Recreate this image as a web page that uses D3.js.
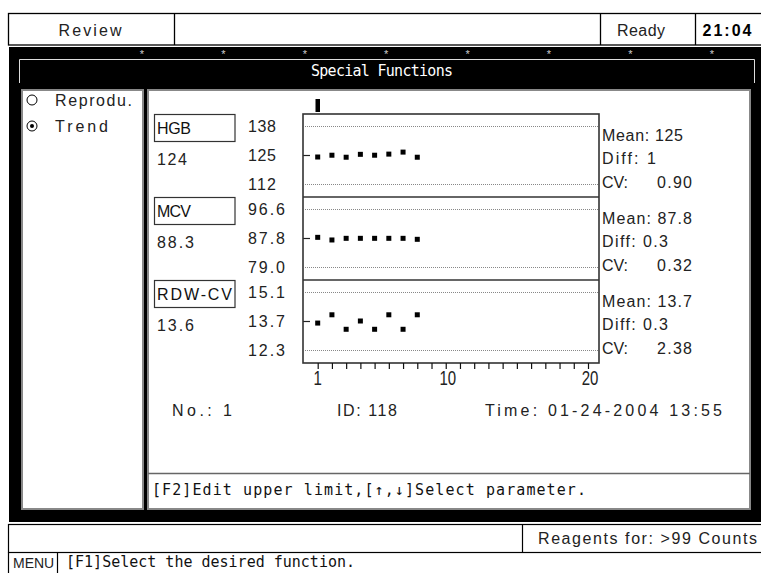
<!DOCTYPE html>
<html><head><meta charset="utf-8">
<script src="https://cdn.jsdelivr.net/npm/d3@7"></script>
<style>html,body{margin:0;padding:0;background:#fff;overflow:hidden}</style>
</head><body><svg id="c" width="761" height="573"></svg>
<script>
// ---------- data ----------
const params = ["HGB", "MCV", "RDW-CV"];
const currentValues = ["124", "88.3", "13.6"];
const upperLimits = [138, 96.6, 15.1];
const means = [125, 87.8, 13.7];
const lowerLimits = [112, 79.0, 12.3];
const upperLabels = ["138", "96.6", "15.1"];
const meanLabels = ["125", "87.8", "13.7"];
const lowerLabels = ["112", "79.0", "12.3"];
const diffs = ["1", "0.3", "0.3"];
const cvs = ["0.90", "0.32", "2.38"];
const runNumbers = [1, 2, 3, 4, 5, 6, 7, 8];
const hgbValues = [124.1, 124.9, 124.0, 125.3, 124.9, 125.4, 126.3, 124.0];
const mcvValues = [88.0, 87.2, 87.7, 87.7, 87.7, 87.7, 87.7, 87.4];
const rdwValues = [13.6, 14.0, 13.3, 13.7, 13.3, 14.0, 13.3, 14.0];
const seriesValues = [hgbValues, mcvValues, rdwValues];
const xTicks = [1,2,3,4,5,6,7,8,9,10,11,12,13,14,15,16,17,18,19,20];
const xTickLabels = [1, 10, 20];
const selectedRun = 1;
const modes = ["Reprodu.", "Trend"];
const selectedMode = "Trend";
const headerTitle = "Review";
const statusText = "Ready";
const clockText = "21:04";
const screenTitle = "Special Functions";
const infoNo = "No.:  1";
const infoId = "ID:  118";
const infoTime = "Time:  01-24-2004  13:55";
const hintText = "[F2]Edit upper limit,[\u2191,\u2193]Select parameter.";
const reagentText = "Reagents for: >99 Counts";
const menuText = "MENU";
const menuHint = "[F1]Select the desired function.";

// ---------- drawing ----------
const svg = d3.select("#c");
const SANS = "'Liberation Sans', Arial, Helvetica, sans-serif";
const MONO = "'DejaVu Sans Mono', 'Liberation Mono', monospace";
function T(sel, s, x, y, o = {}) {
  const t = sel.append("text").attr("x", x).attr("y", y).text(s)
    .attr("font-family", o.ff || SANS).attr("font-size", o.fs || 16)
    .attr("fill", o.fill || "#000").attr("dominant-baseline", "central");
  if (o.anchor) t.attr("text-anchor", o.anchor);
  if (o.w) t.attr("textLength", o.w).attr("lengthAdjust", "spacing");
  if (o.fw) t.attr("font-weight", o.fw);
  return t;
}
svg.append("rect").attr("width", 761).attr("height", 573).attr("fill", "#fff");

// header bar
svg.append("rect").attr("x", 8.5).attr("y", 13.5).attr("width", 760).attr("height", 31.5)
  .attr("fill", "none").attr("stroke", "#000").attr("stroke-width", 1.3);
[174.5, 600.5, 695.5].forEach(x => svg.append("line").attr("x1", x).attr("x2", x)
  .attr("y1", 13.5).attr("y2", 45).attr("stroke", "#000").attr("stroke-width", 1.3));
T(svg, headerTitle, 90, 30, {anchor: "middle", w: 63, fill: "#222"});
T(svg, statusText, 641, 30, {anchor: "middle", w: 48, fill: "#222"});
T(svg, clockText, 727, 30, {anchor: "middle", w: 49, fw: "bold", fs: 16});

// black frame
svg.append("rect").attr("x", 9).attr("y", 47).attr("width", 752).attr("height", 475).attr("fill", "#000");
d3.range(8).forEach(i => T(svg, "*", 142 + i * 81.4, 54, {anchor: "middle", fs: 11, fill: "#ccc"}));
svg.append("path").attr("d", "M19.5,83V59.5H754.5V83").attr("fill", "none").attr("stroke", "#ddd").attr("stroke-width", 1);
T(svg, screenTitle, 382, 71, {anchor: "middle", ff: MONO, fs: 15, w: 142, fill: "#fff"});

// panels
svg.append("rect").attr("x", 22).attr("y", 90).attr("width", 121).attr("height", 419)
  .attr("fill", "#fff").attr("stroke", "#888").attr("stroke-width", 2);
svg.append("rect").attr("x", 148).attr("y", 90).attr("width", 602).attr("height", 419)
  .attr("fill", "#fff").attr("stroke", "#888").attr("stroke-width", 2);
svg.append("line").attr("x1", 148).attr("x2", 750).attr("y1", 473.5).attr("y2", 473.5)
  .attr("stroke", "#666").attr("stroke-width", 1.3);

// radios
modes.forEach((m, i) => {
  const cy = 100 + i * 26;
  svg.append("circle").attr("cx", 32).attr("cy", cy).attr("r", 5).attr("fill", "none").attr("stroke", "#000").attr("stroke-width", 1);
  if (m === selectedMode) svg.append("circle").attr("cx", 32).attr("cy", cy).attr("r", 2).attr("fill", "#000");
  T(svg, m, 55, cy, {w: m.length > 6 ? 77 : 53, fill: "#222"});
});

// plot
const plotL = 303, plotR = 599, panelTop = [114, 197, 280], panelH = 83;
const x = d3.scaleLinear().domain([1, 20]).range([317.7, 588]);
const plotBottom = panelTop[2] + panelH;
const g = svg.append("g");

params.forEach((p, i) => {
  const top = panelTop[i];
  const y = d3.scaleLinear().domain([lowerLimits[i], upperLimits[i]]).range([top + 70, top + 12]);
  [upperLimits[i], lowerLimits[i]].forEach(v => g.append("line")
    .attr("x1", plotL + 2).attr("x2", plotR - 1).attr("y1", Math.round(y(v)) + 0.5).attr("y2", Math.round(y(v)) + 0.5)
    .attr("stroke", "#888").attr("stroke-width", 1).attr("stroke-dasharray", "1,1"));
  const ax = g.append("g").attr("transform", `translate(${plotL},0)`)
    .call(d3.axisRight(y).tickValues([means[i]]).tickSize(7).tickFormat(""));
  ax.select(".domain").remove();
  ax.selectAll("line").attr("stroke", "#222").attr("stroke-width", 1.2);
  g.selectAll(null).data(seriesValues[i]).enter().append("rect")
    .attr("x", (d, k) => x(runNumbers[k]) - 2.5).attr("y", d => y(d) - 2.5)
    .attr("width", 5).attr("height", 5).attr("fill", "#000");
  svg.append("rect").attr("x", 154.5).attr("y", top + 0.5).attr("width", 80.5).attr("height", 27)
    .attr("fill", "none").attr("stroke", "#333").attr("stroke-width", 1.2);
  T(svg, p, 157, top + 14, {w: p.length > 3 ? 75 : 34, fill: "#111"});
  T(svg, currentValues[i], 157, top + 45, {w: currentValues[i].length > 3 ? 37 : 30, fill: "#222"});
  [[upperLabels[i], upperLimits[i]], [meanLabels[i], means[i]], [lowerLabels[i], lowerLimits[i]]].forEach(([s, v]) =>
    T(svg, s, 248, y(v), {w: s.length > 3 ? 37 : 28, fill: "#222"}));
  const mean = "Mean: " + meanLabels[i];
  T(svg, mean, 602, top + 21, {w: mean.length > 9 ? 90 : 81, fill: "#222"});
  const diff = "Diff: " + diffs[i];
  T(svg, diff, 602, top + 44, {w: diff.length > 7 ? 66 : 54, fill: "#222"});
  T(svg, "CV:", 602, top + 68, {w: 26, fill: "#222"});
  T(svg, cvs[i], 657, top + 68, {w: 35, fill: "#222"});
});

g.append("rect").attr("x", plotL).attr("y", panelTop[0]).attr("width", plotR - plotL).attr("height", plotBottom - panelTop[0])
  .attr("fill", "none").attr("stroke", "#333").attr("stroke-width", 1.6);
[panelTop[1], panelTop[2]].forEach(yy => g.append("line").attr("x1", plotL).attr("x2", plotR)
  .attr("y1", yy).attr("y2", yy).attr("stroke", "#333").attr("stroke-width", 1.6));

const xa = g.append("g").attr("transform", `translate(0,${plotBottom})`)
  .call(d3.axisBottom(x).tickValues(xTicks).tickSize(6).tickFormat(""));
xa.select(".domain").remove();
xa.selectAll("line").attr("stroke", "#111").attr("stroke-width", 1.2);
xTickLabels.forEach(v => {
  g.append("text").attr("transform", `translate(${x(v) + (v >= 10 ? 2 : 0)},385) scale(1,1.4)`)
    .attr("text-anchor", "middle").attr("font-family", SANS).attr("font-size", 15).attr("fill", "#222").text(v);
});
g.append("rect").attr("x", x(selectedRun) - 2.2).attr("y", 99).attr("width", 4.5).attr("height", 13).attr("fill", "#000");

T(svg, infoNo, 172, 410, {w: 60, fill: "#222"});
T(svg, infoId, 337, 410, {w: 60, fill: "#222"});
T(svg, infoTime, 485, 410, {w: 237, fill: "#222"});

T(svg, hintText, 152, 490, {ff: MONO, fs: 15, w: 434, fill: "#111"});

svg.append("rect").attr("x", 8.5).attr("y", 524.5).attr("width", 760).attr("height", 28)
  .attr("fill", "none").attr("stroke", "#000").attr("stroke-width", 1.2);
svg.append("line").attr("x1", 522.5).attr("x2", 522.5).attr("y1", 524.5).attr("y2", 552.5).attr("stroke", "#000").attr("stroke-width", 1.2);
svg.append("line").attr("x1", 8.5).attr("x2", 8.5).attr("y1", 552.5).attr("y2", 573).attr("stroke", "#000").attr("stroke-width", 1.2);
svg.append("line").attr("x1", 57.5).attr("x2", 57.5).attr("y1", 552.5).attr("y2", 573).attr("stroke", "#000").attr("stroke-width", 1.2);
T(svg, reagentText, 538, 538, {w: 219, fill: "#222"});
T(svg, menuText, 13, 563, {fs: 14, fill: "#222"});
T(svg, menuHint, 66, 562, {ff: MONO, fs: 15, w: 289, fill: "#111"});
</script></body></html>
